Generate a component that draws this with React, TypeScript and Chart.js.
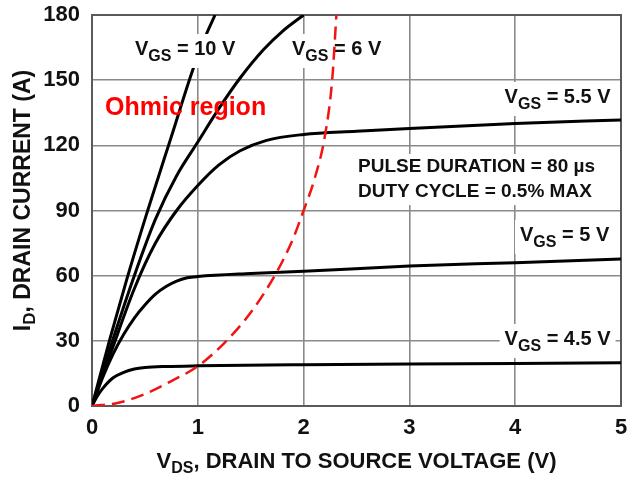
import React, { useEffect, useRef } from 'react';
import { Chart, registerables } from 'chart.js';

Chart.register(...registerables);

// ---- Data ----
const xTickValues = [0, 1, 2, 3, 4, 5];
const yTickValues = [0, 30, 60, 90, 120, 150, 180];

const vds10 = [0, 0.17, 0.33, 0.52, 0.75, 0.957, 1.084, 1.163];
const id10 = [0, 31, 58.5, 89, 124, 155.4, 171.5, 180];

const vds6 = [0, 0.2, 0.4, 0.6, 0.8, 1.0, 1.2, 1.4, 1.62, 1.8, 2.0];
const id6 = [0, 31, 60, 86, 106, 121.5, 137, 151, 164, 172.5, 180];

const vds55 = [0, 0.2, 0.4, 0.6, 0.8, 1.0, 1.2, 1.4, 1.65, 2.0, 2.5, 3, 4, 5];
const id55 = [0, 27.5, 54, 75, 90, 101.5, 111, 117.5, 122.3, 125, 126.5, 127.8, 130, 131.7];

const vds5 = [0, 0.1, 0.2, 0.3, 0.4, 0.5, 0.6, 0.7, 0.8, 0.9, 1.0, 1.5, 2, 3, 4, 5];
const id5 = [0, 13, 24, 33, 40.5, 46.5, 51.5, 55, 57.5, 59, 59.6, 61, 62, 64.4, 66, 67.7];

const vds45 = [0, 0.05, 0.1, 0.2, 0.3, 0.4, 0.5, 0.7, 1, 2, 3, 4, 5];
const id45 = [0, 4.5, 8, 13, 15.5, 17, 17.7, 18.2, 18.5, 19, 19.3, 19.6, 19.9];

const vdsOhmic = [0, 0.25, 0.5, 0.75, 1.0, 1.25, 1.5, 1.75, 1.9, 2.0, 2.1, 2.2, 2.27, 2.31];
const idOhmic = [0, 1.5, 5.5, 11.5, 18.3, 29, 43, 62, 77, 90, 104, 124, 150, 180];

const vgsLabels = ['10 V', '6 V', '5.5 V', '5 V', '4.5 V'];
const noteLines = ['PULSE DURATION = 80 \u00B5s', 'DUTY CYCLE = 0.5% MAX'];
const regionLabel = 'Ohmic region';
const xTitleMain = 'V';
const xTitleSub = 'DS';
const xTitleRest = ', DRAIN TO SOURCE VOLTAGE (V)';
const yTitleMain = 'I';
const yTitleSub = 'D';
const yTitleRest = ', DRAIN CURRENT (A)';

// ---- Layout (positions in data units, left edge / baseline) ----
const vgsLabelPos = [
  [0.406, 161.6],
  [1.89, 161.6],
  [3.9, 139.5],
  [4.045, 76],
  [3.9, 28.1],
];
const notePos = [2.514, 107.7];
const noteLineGapPx = 25;
const regionPos = [0.123, 134];

const FAMILY = '"Liberation Sans", Arial, Helvetica, sans-serif';

function pts(xs: number[], ys: number[]) {
  return xs.map((x, i) => ({ x, y: ys[i] }));
}

type Part = { t: string; sub?: boolean };

function measureParts(ctx: CanvasRenderingContext2D, parts: Part[], main: number, sub: number) {
  let w = 0;
  for (const p of parts) {
    ctx.font = `bold ${p.sub ? sub : main}px ${FAMILY}`;
    w += ctx.measureText(p.t).width;
  }
  return w;
}

function drawParts(ctx: CanvasRenderingContext2D, parts: Part[], x: number, y: number, main: number, sub: number, subDy: number) {
  let cx = x;
  ctx.textBaseline = 'alphabetic';
  ctx.textAlign = 'left';
  for (const p of parts) {
    ctx.font = `bold ${p.sub ? sub : main}px ${FAMILY}`;
    ctx.fillText(p.t, cx, y + (p.sub ? subDy : 0));
    cx += ctx.measureText(p.t).width;
  }
}

const annotPlugin = {
  id: 'annot',
  beforeDatasetsDraw(chart: any) {
    const { ctx, chartArea } = chart;
    ctx.save();
    ctx.strokeStyle = '#5a5a5a';
    ctx.lineWidth = 2;
    ctx.strokeRect(chartArea.left, chartArea.top, chartArea.right - chartArea.left, chartArea.bottom - chartArea.top);
    ctx.restore();
  },
  beforeDatasetDraw(chart: any, args: any) {
    if (args.index !== 0) return;
    const { ctx, scales } = chart;
    const xs = scales.x;
    const ys = scales.y;
    ctx.save();
    vgsLabels.forEach((lab, i) => {
      const px = xs.getPixelForValue(vgsLabelPos[i][0]);
      const py = ys.getPixelForValue(vgsLabelPos[i][1]);
      const parts: Part[] = [{ t: 'V' }, { t: 'GS', sub: true }, { t: ' = ' + lab }];
      const w = measureParts(ctx, parts, 20, 16);
      ctx.fillStyle = '#ffffff';
      ctx.fillRect(px - 5, py - 21, w + 10, 34);
      ctx.fillStyle = '#111111';
      drawParts(ctx, parts, px, py, 20, 16, 6);
    });
    const nx = xs.getPixelForValue(notePos[0]);
    const ny = ys.getPixelForValue(notePos[1]);
    ctx.font = `bold 19px ${FAMILY}`;
    const nw = Math.max(...noteLines.map((l) => ctx.measureText(l).width));
    ctx.fillStyle = '#ffffff';
    ctx.fillRect(nx - 6, ny - 18, nw + 12, noteLineGapPx + 26);
    ctx.fillStyle = '#111111';
    noteLines.forEach((l, i) => {
      ctx.textAlign = 'left';
      ctx.textBaseline = 'alphabetic';
      ctx.fillText(l, nx, ny + i * noteLineGapPx);
    });
    ctx.restore();
  },
  afterDatasetsDraw(chart: any) {
    const { ctx, scales } = chart;
    ctx.save();
    ctx.fillStyle = '#ff0000';
    ctx.font = `bold 25px ${FAMILY}`;
    ctx.textAlign = 'left';
    ctx.textBaseline = 'alphabetic';
    ctx.fillText(regionLabel, scales.x.getPixelForValue(regionPos[0]), scales.y.getPixelForValue(regionPos[1]));
    ctx.restore();
  },
  afterDraw(chart: any) {
    const { ctx, chartArea } = chart;
    ctx.save();
    ctx.fillStyle = '#111111';
    const xParts: Part[] = [{ t: xTitleMain }, { t: xTitleSub, sub: true }, { t: xTitleRest }];
    const xw = measureParts(ctx, xParts, 22, 16);
    const xc = (chartArea.left + chartArea.right) / 2;
    drawParts(ctx, xParts, xc - xw / 2, 468, 22, 16, 5);
    const yParts: Part[] = [{ t: yTitleMain }, { t: yTitleSub, sub: true }, { t: yTitleRest }];
    const yw = measureParts(ctx, yParts, 23, 17);
    const yc = (chartArea.top + chartArea.bottom) / 2 - 10;
    ctx.translate(30, yc);
    ctx.rotate(-Math.PI / 2);
    drawParts(ctx, yParts, -yw / 2, 0, 23, 17, 5);
    ctx.restore();
  },
};

const tickFont = { family: FAMILY, size: 22, weight: 'bold' as const };

export default function App() {
  const ref = useRef<HTMLCanvasElement>(null);
  useEffect(() => {
    if (!ref.current) return;
    const black = (data: { x: number; y: number }[]) => ({
      data,
      borderColor: '#000000',
      borderWidth: 3,
      pointRadius: 0,
      fill: false,
      cubicInterpolationMode: 'monotone' as const,
      clip: 0,
    });
    const chart = new Chart(ref.current, {
      type: 'line',
      data: {
        datasets: [
          {
            label: 'Ohmic boundary',
            data: pts(vdsOhmic, idOhmic),
            borderColor: '#f21313',
            borderWidth: 2.5,
            borderDash: [13, 7],
            pointRadius: 0,
            fill: false,
            cubicInterpolationMode: 'monotone',
            clip: 0,
          },
          { label: 'VGS = 10 V', ...black(pts(vds10, id10)) },
          { label: 'VGS = 6 V', ...black(pts(vds6, id6)) },
          { label: 'VGS = 5.5 V', ...black(pts(vds55, id55)) },
          { label: 'VGS = 5 V', ...black(pts(vds5, id5)) },
          { label: 'VGS = 4.5 V', ...black(pts(vds45, id45)) },
        ],
      },
      options: {
        responsive: false,
        animation: false,
        devicePixelRatio: 1,
        layout: { padding: { left: 0, top: 15, right: 7, bottom: 0 } },
        plugins: { legend: { display: false }, tooltip: { enabled: false } },
        scales: {
          x: {
            type: 'linear',
            min: xTickValues[0],
            max: xTickValues[xTickValues.length - 1],
            afterBuildTicks: (s: any) => {
              s.ticks = xTickValues.map((v) => ({ value: v }));
            },
            ticks: { color: '#111111', font: tickFont, padding: 0, maxRotation: 0 },
            grid: { color: '#8a8a8a', lineWidth: 1.6, drawTicks: true, tickLength: 9, tickColor: 'rgba(0,0,0,0)' },
            border: { display: false },
            afterFit: (s: any) => {
              s.height = 71;
            },
          },
          y: {
            type: 'linear',
            min: yTickValues[0],
            max: yTickValues[yTickValues.length - 1],
            afterBuildTicks: (s: any) => {
              s.ticks = yTickValues.map((v) => ({ value: v }));
            },
            ticks: { color: '#111111', font: tickFont, padding: 0 },
            grid: { color: '#8a8a8a', lineWidth: 1.6, drawTicks: true, tickLength: 12, tickColor: 'rgba(0,0,0,0)' },
            border: { display: false },
            afterFit: (s: any) => {
              s.width = 92;
            },
          },
        },
      },
      plugins: [annotPlugin],
    } as any);
    return () => chart.destroy();
  }, []);
  return (
    <div style={{ position: 'fixed', left: 0, top: 0, width: 628, height: 477, background: '#ffffff' }}>
      <canvas ref={ref} width={628} height={477} style={{ display: 'block', width: 628, height: 477 }} />
    </div>
  );
}
